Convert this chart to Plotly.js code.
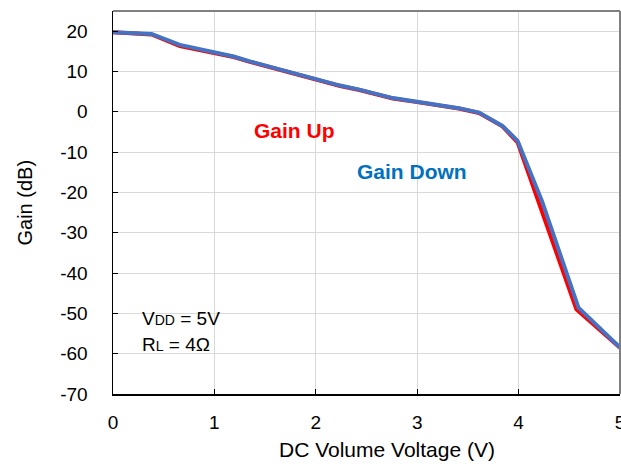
<!DOCTYPE html>
<html>
<head>
<meta charset="utf-8">
<script src="https://cdn.plot.ly/plotly-3.0.1.min.js"></script>
<style>html,body{margin:0;padding:0;background:#fff;}#chart{width:621px;height:466px;}</style>
</head>
<body>
<div id="chart"></div>
<script>
// DC volume voltage (V)
const voltageUp = [0, 0.38, 0.66, 1.0, 1.19, 1.35, 1.6, 2.0, 2.24, 2.43, 2.76, 3.0, 3.41, 3.61, 3.84, 3.99, 4.21, 4.57, 5.0];
const gainUp =    [19.7, 19.2, 16.3, 14.5, 13.6, 12.4, 10.7, 8.0, 6.4, 5.4, 3.3, 2.4, 0.8, -0.3, -3.6, -7.6, -23.5, -49.0, -58.5];
const voltageDown = [0, 0.38, 0.66, 1.0, 1.19, 1.35, 1.6, 2.0, 2.24, 2.43, 2.76, 3.0, 3.41, 3.61, 3.84, 3.99, 4.23, 4.59, 5.0];
const gainDown =    [19.7, 19.3, 16.6, 14.7, 13.7, 12.5, 10.8, 8.1, 6.5, 5.5, 3.4, 2.5, 0.9, -0.2, -3.5, -7.2, -22.1, -48.6, -58.5];
const xTicks = [0, 1, 2, 3, 4, 5];
const yTicks = [20, 10, 0, -10, -20, -30, -40, -50, -60, -70];

const font = "'Liberation Sans', Arial, sans-serif";
const traces = [
  {x: voltageUp, y: gainUp, type: 'scatter', mode: 'lines', name: 'Gain Up',
   line: {color: '#FF0000', width: 4}},
  {x: voltageDown, y: gainDown, type: 'scatter', mode: 'lines', name: 'Gain Down',
   line: {color: '#4472C4', width: 4}}
];
const layout = {
  width: 621, height: 466,
  margin: {l: 113, r: 1, t: 11, b: 72},
  paper_bgcolor: '#fff', plot_bgcolor: '#fff',
  showlegend: false,
  font: {family: font, size: 19, color: '#000'},
  xaxis: {
    range: [0, 5], tickvals: xTicks, ticktext: xTicks.map(String),
    showgrid: true, gridcolor: '#d9d9d9', gridwidth: 1,
    showline: true, linecolor: '#000', linewidth: 1.5,
    ticks: 'inside', ticklen: 5, tickcolor: '#000', tickwidth: 1,
    zeroline: false, ticklabelstandoff: 11, ticklabeloverflow: 'allow',
    tickfont: {size: 19}
  },
  yaxis: {
    range: [-70, 25], tickvals: yTicks, ticktext: yTicks.map(String),
    showgrid: true, gridcolor: '#d9d9d9', gridwidth: 1,
    showline: true, linecolor: '#000', linewidth: 1.5,
    ticks: 'inside', ticklen: 5, tickcolor: '#000', tickwidth: 1,
    zeroline: false, ticklabelstandoff: 20, ticklabeloverflow: 'allow',
    tickfont: {size: 19}
  },
  shapes: [
    {type: 'line', xref: 'paper', yref: 'paper', x0: 0, x1: 1, y0: 1, y1: 1,
     line: {color: '#808080', width: 2}, layer: 'above'},
    {type: 'line', xref: 'paper', yref: 'paper', x0: 1, x1: 1, y0: 0, y1: 1,
     line: {color: '#808080', width: 2}, layer: 'above'}
  ],
  annotations: [
    {x: 2.70, y: -0.146, xref: 'x', yref: 'paper', xanchor: 'center', yanchor: 'middle',
     text: 'DC Volume Voltage (V)', showarrow: false, font: {size: 21, color: '#000'}},
    {x: -0.1755, y: 0.5, xref: 'paper', yref: 'paper', xanchor: 'center', yanchor: 'middle',
     text: 'Gain (dB)', textangle: -90, showarrow: false, font: {size: 20, color: '#000'}},
    {x: 1.79, y: -4.6, xref: 'x', yref: 'y', xanchor: 'center', yanchor: 'middle',
     text: '<b>Gain Up</b>', showarrow: false, font: {size: 21, color: '#FF0000'}},
    {x: 2.95, y: -14.7, xref: 'x', yref: 'y', xanchor: 'center', yanchor: 'middle',
     text: '<b>Gain Down</b>', showarrow: false, font: {size: 21, color: '#0070C0'}},
    {x: 0.27, y: -51.2, xref: 'x', yref: 'y', xanchor: 'left', yanchor: 'middle',
     text: 'V<span style="font-size:14px">DD</span> = 5V', showarrow: false, font: {size: 19, color: '#000'}},
    {x: 0.27, y: -57.8, xref: 'x', yref: 'y', xanchor: 'left', yanchor: 'middle',
     text: 'R<span style="font-size:14px">L</span> = 4Ω', showarrow: false, font: {size: 19, color: '#000'}}
  ]
};
Plotly.newPlot('chart', traces, layout, {displayModeBar: false, staticPlot: true});
</script>
</body>
</html>
